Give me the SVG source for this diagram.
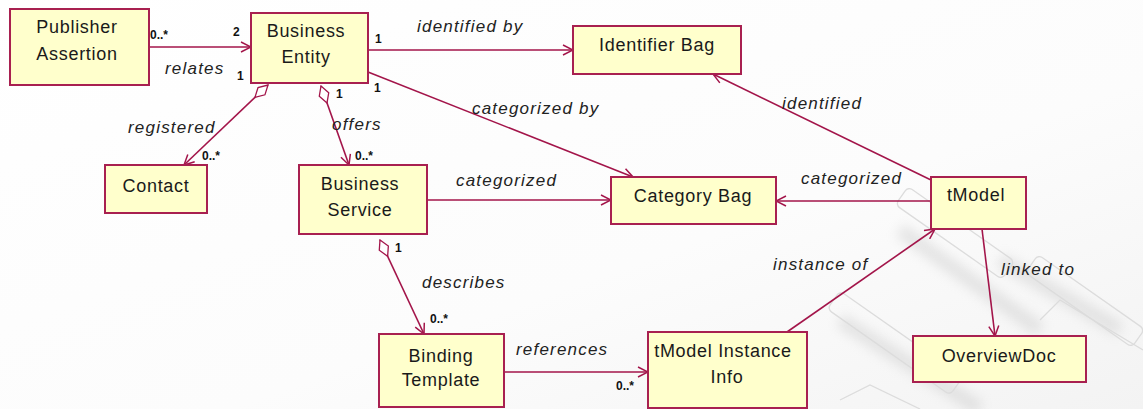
<svg xmlns="http://www.w3.org/2000/svg" width="1143" height="409" viewBox="0 0 1143 409">
  <defs>
    <linearGradient id="bg" x1="0" y1="0" x2="1" y2="1">
      <stop offset="0" stop-color="#ffffff"/>
      <stop offset="0.6" stop-color="#fcfcfc"/>
      <stop offset="1" stop-color="#f3f3f3"/>
    </linearGradient>
    <filter id="soft" x="-20%" y="-20%" width="140%" height="140%">
      <feGaussianBlur stdDeviation="6"/>
    </filter>
    <marker id="open" viewBox="0 0 12 12" refX="11" refY="6" markerWidth="12" markerHeight="12" markerUnits="userSpaceOnUse" orient="auto">
      <path d="M1,1 L11,6 L1,11" fill="none" stroke="#a3154a" stroke-width="1.5"/>
    </marker>
    <marker id="diamond" viewBox="0 0 20 12" refX="1" refY="6" markerWidth="20" markerHeight="12" markerUnits="userSpaceOnUse" orient="auto">
      <path d="M1,6 L10,1 L19,6 L10,11 Z" fill="#ffffff" stroke="#a3154a" stroke-width="1.3"/>
    </marker>
  </defs>
  <style>
    .box { fill: #ffffcc; stroke: #a82050; stroke-width: 2; }
    .name { font-family: "Liberation Sans", Arial, sans-serif; font-size: 18px; fill: #1a1a1a; text-anchor: middle; letter-spacing: 0.7px; }
    .role { font-family: "Liberation Sans", Arial, sans-serif; font-size: 17px; font-style: italic; fill: #222; letter-spacing: 1.2px; }
    .mult { font-family: "Liberation Sans", Arial, sans-serif; font-size: 12px; font-weight: bold; fill: #111; }
    .link { fill: none; stroke: #a3154a; stroke-width: 1.6; }
    .wm { fill: none; stroke: #dcdcdc; stroke-width: 1.3; }
  </style>

  <rect x="0" y="0" width="1143" height="409" fill="url(#bg)"/>

  <!-- faint background mark -->
  <g id="backdrop">
    <g filter="url(#soft)" opacity="0.35">
      <path d="M900,230 L1040,330 M840,320 L980,409 M1000,260 L1120,330" stroke="#bbbbbb" stroke-width="14" fill="none"/>
    </g>
    <rect class="wm" x="890" y="222" width="130" height="22" rx="5" transform="rotate(35 955 233)"/>
    <rect class="wm" x="1020" y="290" width="130" height="22" rx="5" transform="rotate(35 1085 301)"/>
    <rect class="wm" x="820" y="332" width="150" height="22" rx="5" transform="rotate(35 895 343)"/>
    <path class="wm" d="M1040,320 L1060,300 L1143,350"/>
    <path class="wm" d="M840,400 L870,385 L920,409"/>
  </g>

  <!-- connectors -->
  <g id="connectors">
    <line class="link" x1="149" y1="47" x2="251" y2="47" marker-end="url(#open)"/>
    <line class="link" x1="368" y1="50" x2="573" y2="50" marker-end="url(#open)"/>
    <line class="link" x1="368" y1="72" x2="633" y2="177" marker-end="url(#open)"/>
    <line class="link" x1="268" y1="85" x2="184" y2="165" marker-start="url(#diamond)" marker-end="url(#open)"/>
    <line class="link" x1="321" y1="86" x2="349" y2="165" marker-start="url(#diamond)" marker-end="url(#open)"/>
    <line class="link" x1="427" y1="200" x2="611" y2="200" marker-end="url(#open)"/>
    <line class="link" x1="931" y1="201" x2="776" y2="201" marker-end="url(#open)"/>
    <line class="link" x1="931" y1="180" x2="713" y2="74" marker-end="url(#open)"/>
    <line class="link" x1="380" y1="240" x2="424" y2="334" marker-start="url(#diamond)" marker-end="url(#open)"/>
    <line class="link" x1="504" y1="372" x2="648" y2="372" marker-end="url(#open)"/>
    <line class="link" x1="787" y1="332" x2="935" y2="229" marker-end="url(#open)"/>
    <line class="link" x1="982" y1="229" x2="995" y2="336" marker-end="url(#open)"/>

    <!-- association names -->
    <text class="role" x="165" y="74">relates</text>
    <text class="role" x="417" y="32">identified by</text>
    <text class="role" x="472" y="114">categorized by</text>
    <text class="role" x="128" y="133">registered</text>
    <text class="role" x="332" y="130">offers</text>
    <text class="role" x="456" y="186">categorized</text>
    <text class="role" x="801" y="184">categorized</text>
    <text class="role" x="782" y="109">identified</text>
    <text class="role" x="422" y="288">describes</text>
    <text class="role" x="516" y="355">references</text>
    <text class="role" x="773" y="270">instance of</text>
    <text class="role" x="1001" y="275">linked to</text>

    <!-- multiplicities -->
    <text class="mult" x="150" y="39">0..*</text>
    <text class="mult" x="233" y="36">2</text>
    <text class="mult" x="237" y="80">1</text>
    <text class="mult" x="375" y="43">1</text>
    <text class="mult" x="374" y="92">1</text>
    <text class="mult" x="336" y="98">1</text>
    <text class="mult" x="202" y="160">0..*</text>
    <text class="mult" x="355" y="160">0..*</text>
    <text class="mult" x="395" y="252">1</text>
    <text class="mult" x="430" y="323">0..*</text>
    <text class="mult" x="616" y="390">0..*</text>
  </g>

  <!-- classes -->
  <g id="publisher-assertion">
    <rect class="box" x="10" y="9" width="139" height="76"/>
    <text class="name" x="77" y="33">Publisher</text>
    <text class="name" x="77" y="60">Assertion</text>
  </g>
  <g id="business-entity">
    <rect class="box" x="251" y="13" width="117" height="70"/>
    <text class="name" x="306" y="37">Business</text>
    <text class="name" x="306" y="63">Entity</text>
  </g>
  <g id="identifier-bag">
    <rect class="box" x="573" y="26" width="168" height="48"/>
    <text class="name" x="657" y="51">Identifier Bag</text>
  </g>
  <g id="contact">
    <rect class="box" x="105" y="165" width="102" height="48"/>
    <text class="name" x="156" y="192">Contact</text>
  </g>
  <g id="business-service">
    <rect class="box" x="299" y="165" width="128" height="69"/>
    <text class="name" x="360" y="190">Business</text>
    <text class="name" x="360" y="216">Service</text>
  </g>
  <g id="category-bag">
    <rect class="box" x="611" y="177" width="165" height="47"/>
    <text class="name" x="693" y="202">Category Bag</text>
  </g>
  <g id="tmodel">
    <rect class="box" x="931" y="177" width="95" height="52"/>
    <text class="name" x="976" y="201">tModel</text>
  </g>
  <g id="binding-template">
    <rect class="box" x="379" y="334" width="125" height="73"/>
    <text class="name" x="441" y="362">Binding</text>
    <text class="name" x="441" y="386">Template</text>
  </g>
  <g id="tmodel-instance-info">
    <rect class="box" x="648" y="332" width="159" height="76"/>
    <text class="name" x="723" y="357">tModel Instance</text>
    <text class="name" x="727" y="383">Info</text>
  </g>
  <g id="overview-doc">
    <rect class="box" x="913" y="336" width="173" height="46"/>
    <text class="name" x="999" y="362">OverviewDoc</text>
  </g>
</svg>
